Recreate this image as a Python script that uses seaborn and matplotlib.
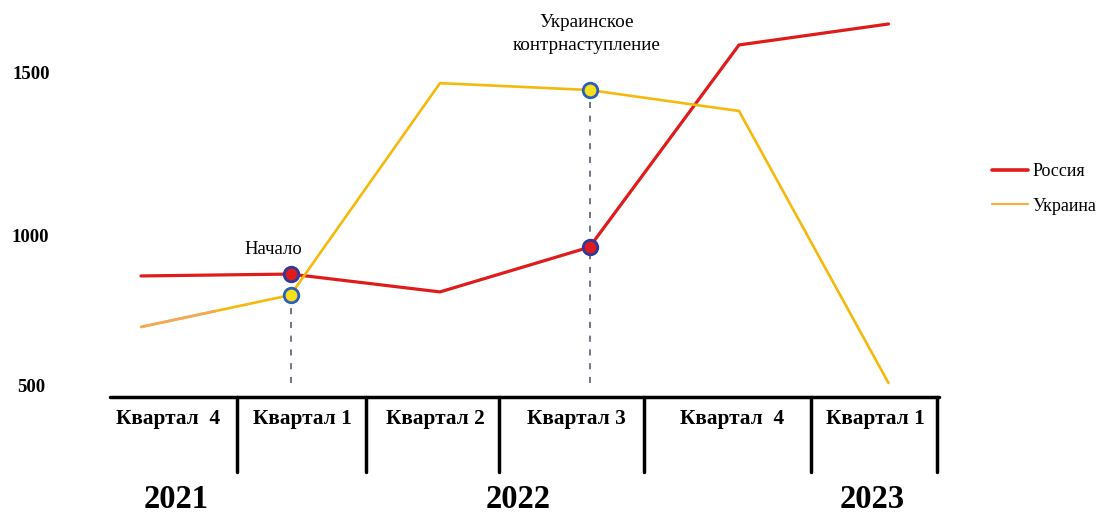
import numpy as np
import pandas as pd
import matplotlib
matplotlib.use("Agg")
import matplotlib.pyplot as plt
from matplotlib.lines import Line2D
import seaborn as sns

# data
quarters = ["Квартал  4", "Квартал 1", "Квартал 2", "Квартал 3", "Квартал  4", "Квартал 1"]
years = ["2021", "2022", "2023"]
russia = [858, 864, 807, 950, 1596, 1663]
ukraine = [695, 797, 1474, 1452, 1385, 516]
y_ticks = [500, 1000, 1500]
events = {"Начало": 1, "Украинское\nконтрнаступление": 3}

W, H = 1104, 515
sns.set_theme(style="white")
plt.rcParams["font.family"] = ["Liberation Serif", "DejaVu Serif"]
plt.rcParams["text.color"] = "black"

fig = plt.figure(figsize=(W / 100, H / 100), dpi=100)
ax = fig.add_axes([0, 0, 1, 1])
ax.set_axis_off()

# pixel mapping: x=0 -> 141px, 149.5 px per quarter ; 500 -> 388px, 0.313 px per unit
x0, px_per_x = 141, 149.5
ax.set_xlim(-x0 / px_per_x, (W - x0) / px_per_x)
ax.set_ylim(500 - (H - 388) / 0.313, 500 + 388 / 0.313)


def fx(px):
    return px / W


def fy(py):
    return 1 - py / H


df = pd.DataFrame({
    "x": list(range(6)) * 2,
    "value": russia + ukraine,
    "country": ["Россия"] * 6 + ["Украина"] * 6,
})
red = "#e01b1b"
yellow = "#f5b90c"
sns.lineplot(data=df, x="x", y="value", hue="country", palette={"Россия": red, "Украина": yellow},
             ax=ax, legend=False, linewidth=2.2)
for l, w in zip(ax.lines, [2.3, 1.9]):
    l.set_linewidth(w)
    l.set_solid_joinstyle("miter")
# first Ukraine segment is drawn in a softer orange in the original
ax.plot([0, 0.5], [ukraine[0], (ukraine[0] + ukraine[1]) / 2], color="#f2a860", lw=1.9,
        solid_capstyle="butt", zorder=3)

# event markers with dashed drops
for label, i in events.items():
    top = max(russia[i], ukraine[i])
    bottom_v = 500 + (388 - 383) / 0.313
    ax.plot([i, i], [bottom_v, min(russia[i], ukraine[i]) if i == 1 else top], ls=(0, (4, 5)),
            color="#4a5068", lw=1.1, zorder=1)
    ax.scatter([i], [russia[i]], s=110, color=red, edgecolor="#2c3a9c", linewidth=2, zorder=5)
    ax.scatter([i], [ukraine[i]], s=110, color="#f7e01a", edgecolor="#2c5fb8", linewidth=2, zorder=5)

fig.text(fx(273), fy(250), "Начало", ha="center", va="center", fontsize=13.5)
fig.text(fx(587), fy(34), "Украинское\nконтрнаступление", ha="center", va="center",
         fontsize=13.8, linespacing=1.45)

# y labels
for v, px, py in zip(y_ticks, [31, 30, 31], [388, 237, 75]):
    fig.text(fx(px), fy(py), str(v), ha="center", va="center", fontsize=13.5, fontweight="bold")

# table under the chart
fig.add_artist(Line2D([fx(110), fx(939)], [fy(397), fy(397)], color="black", lw=2.5))
for sx in [237, 366, 499, 644, 811, 937]:
    fig.add_artist(Line2D([fx(sx), fx(sx)], [fy(397), fy(472)], color="black", lw=2.5))
for q, cx in zip(quarters, [168, 302, 435, 576, 732, 875]):
    fig.text(fx(cx), fy(419), q, ha="center", va="center", fontsize=15.3, fontweight="bold")
for yr, cx in zip(years, [176, 518, 872]):
    fig.text(fx(cx), fy(500), yr, ha="center", va="center", fontsize=23.5, fontweight="bold")

handles = [Line2D([], [], color=red, lw=2.6), Line2D([], [], color="#f2b04a", lw=1.6)]
fig.legend(handles, ["Россия", "Украина"], loc="center left", bbox_to_anchor=(fx(992), fy(189)),
           frameon=False, fontsize=13, handlelength=2.0, handletextpad=0.25, labelspacing=0.95,
           borderaxespad=0, borderpad=0)

fig.savefig("out.png", dpi=100)
